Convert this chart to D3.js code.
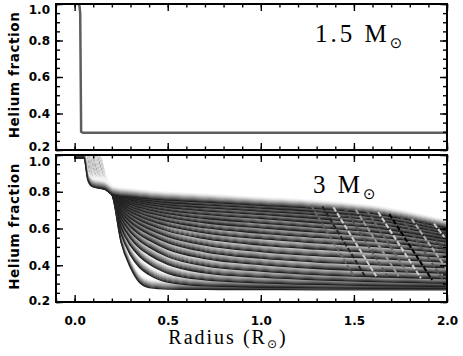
<!DOCTYPE html>
<html>
<head>
<meta charset="utf-8">
<script src="https://cdn.jsdelivr.net/npm/d3@7"></script>
<style>
body { margin: 0; background: #fff; }
</style>
</head>
<body>
<div class="chart"></div>
<script>
// 1.5 Msun: helium profile
const topR  = [0.0, 0.025, 0.03, 0.035, 0.045, 2.0];
const topHe = [1.0, 1.0, 0.95, 0.30, 0.295, 0.295];

// 3 Msun: profiles at successive ages, core part and envelope part
const coreR = [0.0, 0.05, 0.07, 0.09, 0.11, 0.13, 0.15, 0.165, 0.18];
const coreHe = [
  [1, 1, 0.88, 0.845, 0.838, 0.834, 0.83, 0.826, 0.815],
  [1, 1, 0.90, 0.848, 0.839, 0.835, 0.83, 0.826, 0.815],
  [1, 1, 0.93, 0.852, 0.840, 0.835, 0.831, 0.826, 0.815],
  [1, 1, 0.96, 0.86, 0.842, 0.836, 0.832, 0.827, 0.816],
  [1, 1, 0.98, 0.88, 0.845, 0.837, 0.832, 0.827, 0.816],
  [1, 1, 1, 0.90, 0.848, 0.838, 0.833, 0.828, 0.817],
  [1, 1, 1, 0.92, 0.85, 0.84, 0.834, 0.828, 0.817],
  [1, 1, 1, 0.95, 0.86, 0.842, 0.835, 0.829, 0.817],
  [1, 1, 1, 0.97, 0.88, 0.845, 0.836, 0.829, 0.818],
  [1, 1, 1, 0.99, 0.90, 0.85, 0.838, 0.83, 0.818],
  [1, 1, 1, 1, 0.93, 0.86, 0.84, 0.831, 0.819],
  [1, 1, 1, 1, 0.95, 0.88, 0.845, 0.833, 0.819],
  [1, 1, 1, 1, 0.97, 0.90, 0.85, 0.835, 0.82],
  [1, 1, 1, 1, 0.985, 0.92, 0.86, 0.838, 0.821],
  [1, 1, 1, 1, 1, 0.95, 0.88, 0.842, 0.822],
  [1, 1, 1, 1, 1, 0.97, 0.90, 0.848, 0.823],
  [1, 1, 1, 1, 1, 0.985, 0.92, 0.855, 0.824],
  [1, 1, 1, 1, 1, 0.99, 0.93, 0.86, 0.825]
];
const envR = [0.2, 0.25, 0.3, 0.35, 0.4, 0.5, 0.7, 1.0, 1.3, 1.6, 2.0];
const envHe = [
  [0.800, 0.790, 0.785, 0.780, 0.775, 0.768, 0.757, 0.740, 0.722, 0.695, 0.615],
  [0.800, 0.785, 0.778, 0.771, 0.765, 0.755, 0.742, 0.725, 0.705, 0.677, 0.600],
  [0.800, 0.780, 0.770, 0.762, 0.755, 0.742, 0.727, 0.708, 0.688, 0.660, 0.585],
  [0.800, 0.775, 0.762, 0.752, 0.743, 0.728, 0.710, 0.690, 0.668, 0.641, 0.570],
  [0.800, 0.770, 0.753, 0.741, 0.730, 0.712, 0.690, 0.668, 0.645, 0.619, 0.555],
  [0.800, 0.764, 0.743, 0.728, 0.715, 0.695, 0.668, 0.643, 0.620, 0.596, 0.540],
  [0.800, 0.757, 0.732, 0.714, 0.698, 0.675, 0.645, 0.617, 0.594, 0.571, 0.520],
  [0.800, 0.749, 0.719, 0.698, 0.680, 0.652, 0.618, 0.588, 0.565, 0.545, 0.500],
  [0.800, 0.740, 0.704, 0.680, 0.659, 0.628, 0.590, 0.558, 0.535, 0.516, 0.480],
  [0.800, 0.730, 0.688, 0.659, 0.636, 0.600, 0.558, 0.523, 0.501, 0.484, 0.455],
  [0.800, 0.718, 0.669, 0.636, 0.610, 0.570, 0.523, 0.488, 0.466, 0.451, 0.430],
  [0.800, 0.704, 0.648, 0.610, 0.582, 0.537, 0.487, 0.452, 0.431, 0.417, 0.400],
  [0.800, 0.688, 0.623, 0.580, 0.550, 0.500, 0.450, 0.417, 0.396, 0.383, 0.370],
  [0.800, 0.668, 0.594, 0.546, 0.512, 0.460, 0.410, 0.382, 0.363, 0.351, 0.340],
  [0.800, 0.645, 0.560, 0.506, 0.470, 0.418, 0.372, 0.349, 0.334, 0.324, 0.315],
  [0.800, 0.617, 0.520, 0.460, 0.420, 0.370, 0.334, 0.318, 0.309, 0.303, 0.298],
  [0.800, 0.583, 0.468, 0.400, 0.362, 0.322, 0.301, 0.294, 0.290, 0.288, 0.287],
  [0.800, 0.535, 0.400, 0.318, 0.292, 0.284, 0.282, 0.281, 0.280, 0.280, 0.280]
];

// outer diagonal streaks (r0, He0, r1, He1) and their shade
const hatch = [
  [1.27, 0.726, 1.50, 0.34], [1.33, 0.721, 1.56, 0.34], [1.39, 0.716, 1.62, 0.34],
  [1.45, 0.709, 1.68, 0.34], [1.51, 0.702, 1.74, 0.34], [1.57, 0.697, 1.80, 0.34],
  [1.63, 0.690, 1.86, 0.33], [1.69, 0.678, 1.92, 0.32], [1.75, 0.666, 1.98, 0.32],
  [1.81, 0.652, 2.04, 0.32], [1.87, 0.640, 2.10, 0.32], [1.93, 0.627, 2.16, 0.32]
];
const hatchShade = ['#666', '#222', '#ccc', '#555', '#999', '#666', '#d0d0d0', '#000', '#555', '#aaa', '#444', '#c8c8c8'];

const yTicks = [0.2, 0.4, 0.6, 0.8, 1.0];
const xTicks = [0.0, 0.5, 1.0, 1.5, 2.0];

const width = 463, height = 356;
const left = 56, right = 447;
const panels = [
  { top: 4, bottom: 150, label: '1.5', ly: 42, lx: 315, shiftTop: 6, shiftBot: -3 },
  { top: 155, bottom: 302, label: '3', ly: 193, lx: 313, shiftTop: 7, shiftBot: -1 }
];

const svg = d3.select('.chart').append('svg')
  .attr('width', width)
  .attr('height', height)
  .style('font-family', 'DejaVu Sans');

const x = d3.scaleLinear().domain([-0.1, 2.0]).range([left, right]);

// each profile is drawn as a shaded tube: light top, dark underside
const tube = [
  { c: '#f4f4f4', dy: -5.5 },
  { c: '#e6e6e6', dy: -4.5 },
  { c: '#cfcfcf', dy: -3.5 },
  { c: '#b4b4b4', dy: -2.5 },
  { c: '#999', dy: -1.5 },
  { c: '#7e7e7e', dy: -0.5 },
  { c: '#626262', dy: 0.5 },
  { c: '#444', dy: 1.5 },
  { c: '#222', dy: 2.5 }
];

panels.forEach(function(p, i) {
  const y = d3.scaleLinear().domain([0.2, 1.0]).range([p.bottom, p.top]);
  const g = svg.append('g');

  svg.append('clipPath').attr('id', 'clip' + i)
    .append('rect')
    .attr('x', left).attr('y', p.top)
    .attr('width', right - left).attr('height', p.bottom - p.top);

  const plot = g.append('g').attr('clip-path', 'url(#clip' + i + ')');
  const line = d3.line()
    .x(function(d) { return x(d[0]); })
    .y(function(d) { return y(d[1]); });

  if (i == 0) {
    plot.append('path')
      .datum(topR.map(function(r, j) { return [r, topHe[j]]; }))
      .attr('d', line)
      .attr('fill', 'none')
      .attr('stroke', '#5e5e5e')
      .attr('stroke-width', 2.5);
  } else {
    const curves = coreHe.map(function(row, k) {
      const pts = coreR.map(function(r, j) { return [r, row[j]]; });
      return pts.concat(envR.map(function(r, j) { return [r, envHe[k][j]]; }));
    });
    const smooth = line.curve(d3.curveMonotoneX);
    // lowest profile first, so each upper tube's dark underside sits on the next band
    curves.slice().reverse().forEach(function(c) {
      tube.forEach(function(t) {
        plot.append('path')
          .datum(c)
          .attr('d', smooth)
          .attr('transform', 'translate(0,' + t.dy + ')')
          .attr('fill', 'none')
          .attr('stroke', t.c)
          .attr('stroke-width', 1.3);
      });
    });
    plot.selectAll('line.hatch')
      .data(hatch)
      .enter()
      .append('line')
      .attr('class', 'hatch')
      .attr('x1', function(d) { return x(d[0]); })
      .attr('y1', function(d) { return y(d[1]); })
      .attr('x2', function(d) { return x(d[2]); })
      .attr('y2', function(d) { return y(d[3]); })
      .attr('stroke', function(d, j) { return hatchShade[j]; })
      .attr('stroke-width', 2)
      .attr('stroke-dasharray', '5,2');
  }

  // ticks on all four sides, pointing inward
  const minorY = d3.range(0.2, 1.0001, 0.05);
  const minorX = d3.range(-0.1, 2.0001, 0.1);
  g.append('g').attr('transform', 'translate(' + left + ',0)')
    .call(d3.axisLeft(y).tickValues(minorY).tickSize(-4).tickFormat(''));
  g.append('g').attr('transform', 'translate(' + right + ',0)')
    .call(d3.axisRight(y).tickValues(minorY).tickSize(-4).tickFormat(''));
  g.append('g').attr('transform', 'translate(' + right + ',0)')
    .call(d3.axisRight(y).tickValues(yTicks).tickSize(-7).tickFormat(''));
  const yl = g.append('g').attr('transform', 'translate(' + left + ',0)')
    .call(d3.axisLeft(y).tickValues(yTicks).tickSize(-7).tickPadding(6).tickFormat(d3.format('.1f')));
  yl.selectAll('.tick text')
    .attr('y', function(d) { return d == 1.0 ? p.shiftTop : (d == 0.2 ? p.shiftBot : 0); });
  g.append('g').attr('transform', 'translate(0,' + p.bottom + ')')
    .call(d3.axisBottom(x).tickValues(minorX).tickSize(-3.5).tickFormat(''));
  g.append('g').attr('transform', 'translate(0,' + p.top + ')')
    .call(d3.axisTop(x).tickValues(minorX).tickSize(-3.5).tickFormat(''));
  g.append('g').attr('transform', 'translate(0,' + p.top + ')')
    .call(d3.axisTop(x).tickValues(xTicks).tickSize(-7).tickFormat(''));
  g.append('g').attr('transform', 'translate(0,' + p.bottom + ')')
    .call(d3.axisBottom(x).tickValues(xTicks).tickSize(-7).tickPadding(14)
      .tickFormat(i == 1 ? d3.format('.1f') : ''));

  g.selectAll('.domain').remove();
  g.selectAll('.tick line').attr('stroke', '#000').attr('stroke-width', 1.4);
  g.selectAll('.tick text')
    .attr('fill', '#000')
    .style('font-family', 'DejaVu Sans')
    .style('font-weight', 'bold')
    .style('font-size', '12px');

  g.append('rect')
    .attr('x', left).attr('y', p.top)
    .attr('width', right - left).attr('height', p.bottom - p.top)
    .attr('fill', 'none')
    .attr('stroke', '#000')
    .attr('stroke-width', 2);

  // y title
  g.append('text')
    .attr('transform', 'translate(14,' + ((p.top + p.bottom) / 2 - 2) + ') rotate(-90)')
    .attr('text-anchor', 'middle')
    .attr('dy', '0.35em')
    .style('font-weight', 'bold')
    .style('font-size', '13.5px')
    .style('letter-spacing', '0.6px')
    .text('Helium fraction');

  // mass label
  const m = g.append('text')
    .attr('x', p.lx).attr('y', p.ly)
    .style('font-family', 'Liberation Serif')
    .style('font-size', '25px')
    .style('letter-spacing', '3px');
  m.append('tspan').text(p.label + '  M');
  m.append('tspan')
    .attr('dy', 6)
    .style('font-family', 'DejaVu Sans')
    .style('font-size', '15px')
    .text('⊙');
});

const xt = svg.append('text')
  .attr('x', 228).attr('y', 344)
  .attr('text-anchor', 'middle')
  .style('font-family', 'Liberation Serif')
  .style('font-size', '20px')
  .style('letter-spacing', '2px');
xt.append('tspan').text('Radius  (R');
xt.append('tspan').attr('dy', 4)
  .style('font-family', 'DejaVu Sans').style('font-size', '12px').text('⊙');
xt.append('tspan').attr('dy', -4).text(')');
</script>
</body>
</html>
